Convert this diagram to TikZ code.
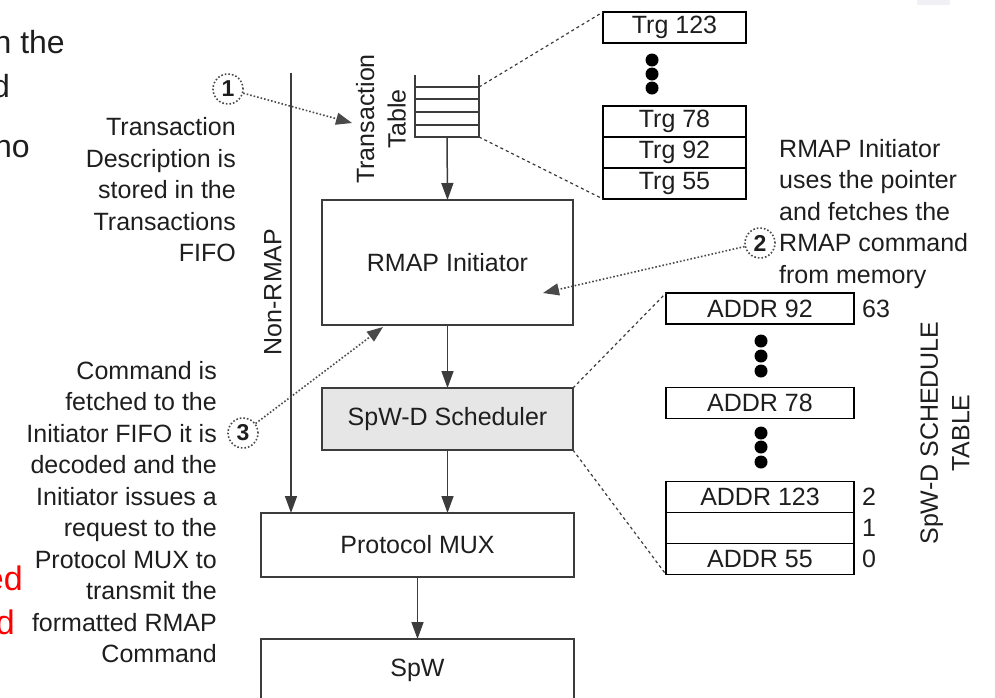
\documentclass[tikz,border=0pt]{standalone}
\usepackage{fontspec}
\setsansfont{Liberation Sans}
\usetikzlibrary{arrows.meta,positioning}
\definecolor{ink}{HTML}{1E1E1E}
\definecolor{line}{HTML}{3C3C3C}
\definecolor{shade}{HTML}{E6E6E6}
\definecolor{hint}{HTML}{4A4A4A}
\definecolor{alert}{HTML}{FF0000}
\definecolor{faint}{HTML}{F0F0F5}

\begin{document}
\begin{tikzpicture}[
  x=1pt,y=-1pt,
  font=\sffamily\fontsize{25}{31.5}\selectfont,
  text=ink,
  box/.style={draw=line,line width=1.5pt,inner sep=0pt,outer sep=0pt},
  cell/.style={draw=black,line width=1.8pt,inner sep=0pt,outer sep=0pt,minimum height=31pt},
  trg/.style={cell,minimum width=143pt},
  addr/.style={cell,minimum width=188pt},
  idx/.style={inner sep=0pt},
  arr/.style={draw=line,line width=1.5pt,-{Triangle[length=17pt,width=12pt]}},
  dotarr/.style={draw=hint,dotted,line width=1.6pt,-{Triangle[length=16pt,width=12pt]}},
  zoomline/.style={draw=line,dashed,line width=1.2pt},
  tabline/.style={draw=line,line width=1.5pt},
  numc/.style={circle,draw=hint,dotted,line width=1.6pt,minimum size=30pt,inner sep=0pt,
    font=\sffamily\bfseries\fontsize{23}{23}\selectfont},
  note/.style={inner sep=0pt},
  frag/.style={inner sep=0pt,anchor=base east,font=\sffamily\fontsize{32}{32}\selectfont}
]
\useasboundingbox (0,0) rectangle (995,697);
\fill[faint] (917,0) rectangle (950,5);

% main chain
\node[box,minimum width=251pt,minimum height=125pt] (init) at (447.5,262.5) {RMAP Initiator};
\node[box,fill=shade,minimum width=251pt,minimum height=62pt] (sched) at (447.5,419) {SpW-D Scheduler};
\node[box,minimum width=313pt,minimum height=64pt] (mux) at (417.5,545) {Protocol MUX};
\node[box,minimum width=313pt,minimum height=62pt] (spw) at (417.5,670) {SpW};

% transaction table
\node[inner sep=0pt,outer sep=0pt,minimum width=64pt,minimum height=50pt] (ttab) at (447,112) {};
\draw[tabline] (415,75) -- (415,137) -- (479,137) -- (479,75);
\foreach \y in {87,99,112,125}
  \draw[tabline] (415,\y) -- (479,\y);
\node[rotate=90,align=center] (ttlab) at (381,119) {Transaction\\Table};

\draw[arr] (ttab.south) -- (init.north);
\draw[arr] (init) -- (sched);
\draw[arr] (sched.south) -- (sched.south |- mux.north);
\draw[arr] (mux) -- (spw);

% non-RMAP path
\coordinate (nrtop) at (291,73);
\draw[arr] (nrtop) -- (nrtop |- mux.north);
\node[rotate=90] (nrlab) at (273,292) {Non-RMAP};

% trigger entries
\node[trg] (trg123) at (674.5,27.5) {Trg 123};
\node[trg] (trg78) at (674.5,121.5) {Trg 78};
\node[trg,below=0pt of trg78] (trg92) {Trg 92};
\node[trg,below=0pt of trg92] (trg55) {Trg 55};
\foreach \y in {60,74,88}
  \fill (652,\y) circle (6.5pt);
\draw[zoomline] (ttab.north east) -- (trg123.north west);
\draw[zoomline] (ttab.south east) -- (trg55.south west);

% schedule table
\node[addr] (a92) at (760,308.5) {ADDR 92};
\node[addr] (a78) at (760,403) {ADDR 78};
\node[addr] (a123) at (760,497) {ADDR 123};
\node[addr,below=0pt of a123] (a1) {};
\node[addr,below=0pt of a1] (a55) {ADDR 55};
\foreach \y in {341,356,371,433,447,462}
  \fill (761,\y) circle (6.5pt);
\node[idx,right=8pt of a92] (i63) {63};
\node[idx,right=8pt of a123] (i2) {2};
\node[idx,right=8pt of a1] (i1) {1};
\node[idx,right=8pt of a55] (i0) {0};
\node[rotate=90,align=center] (stlab) at (945,433) {SpW-D SCHEDULE\\TABLE};
\draw[zoomline] (sched.north east) -- (a92.north west);
\draw[zoomline] (sched.south east) -- (a55.south west);

% numbered callouts
\node[numc] (c1) at (228,89) {1};
\node[numc] (c2) at (760,243) {2};
\node[numc] (c3) at (243,433) {3};
\coordinate (p1) at (352,123);
\coordinate (p2) at (543,293);
\coordinate (p3) at (383,327);
\draw[dotarr] (c1) -- (p1);
\draw[dotarr] (c2) -- (p2);
\draw[dotarr] (c3) -- (p3);

\node[note,align=right,anchor=east] (n1) at (236,190) {Transaction\\Description is\\stored in the\\Transactions\\FIFO};
\node[note,align=left,anchor=west] (n2) at (779,214) {RMAP Initiator\\uses the pointer\\and fetches the\\RMAP command\\from memory};
\node[note,align=right,anchor=east] (n3) at (217,512) {Command is\\fetched to the\\Initiator FIFO it is\\decoded and the\\Initiator issues a\\request to the\\Protocol MUX to\\transmit the\\formatted RMAP\\Command};

% cut-off slide text
\node[frag] (f1) at (65,53) {n the};
\node[frag] (f2) at (10,97) {d};
\node[frag] (f3) at (30,157) {no};
\node[frag,text=alert,font=\sffamily\fontsize{34}{34}\selectfont] (f4) at (23,590) {ed};
\node[frag,text=alert,font=\sffamily\fontsize{34}{34}\selectfont] (f5) at (15,634) {d};
\end{tikzpicture}
\end{document}
